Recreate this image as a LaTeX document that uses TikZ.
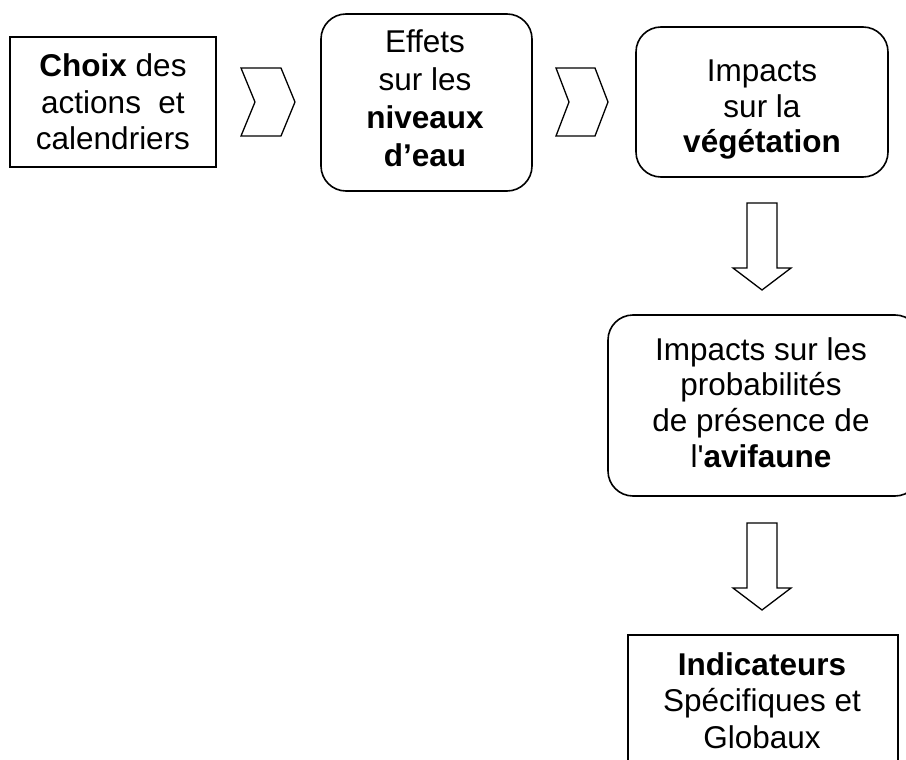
\documentclass[tikz,border=0pt]{standalone}
\usepackage{fontspec}
\setmainfont{Liberation Sans}
\begin{document}
\begin{tikzpicture}[x=1pt,y=-1pt,
  plainbox/.style={draw=black, line width=1.6pt, rectangle, inner sep=0pt, outer sep=0pt},
  roundbox/.style={plainbox, rounded corners=25pt},
  txt/.style={anchor=base, inner sep=0pt, outer sep=0pt},
  chevron/.pic={\draw[line width=1.3pt, line join=miter] (0,0) -- (40,0) -- (54,34) -- (40,68) -- (0,68) -- (14,34) -- cycle;},
  chevronb/.pic={\draw[line width=1.3pt, line join=miter] (0,0) -- (39,0) -- (52,34) -- (39,68) -- (0,68) -- (13,34) -- cycle;},
  downarr/.pic={\draw[line width=1.3pt, line join=miter] (-15,0) -- (15,0) -- (15,65) -- (29,65) -- (0,87) -- (-29,65) -- (-15,65) -- cycle;}
]
\useasboundingbox (0,0) rectangle (906,760);
\clip (0,0) rectangle (906,760);

% boxes
\node[plainbox, minimum width=206pt, minimum height=130pt] (choix) at (113,102) {};
\node[roundbox, minimum width=211pt, minimum height=177pt] (effets) at (426.5,102.5) {};
\node[roundbox, minimum width=252pt, minimum height=150pt] (veget) at (762,102) {};
\node[roundbox, minimum width=312pt, minimum height=181pt] (avif) at (764,405.5) {};
\node[plainbox, minimum width=270pt, minimum height=140pt] (indic) at (763,705) {};

% texts
\node[txt] (tchoix) at (113,77) {\parbox[t]{200pt}{\centering\fontsize{31.5}{36.5}\selectfont
  \textbf{Choix} des\\ actions\ \ et\\ calendriers}};
\node[txt] (teffets) at (425,53) {\parbox[t]{200pt}{\centering\fontsize{31.5}{38}\selectfont
  Effets\\ sur les\\ \textbf{niveaux}\\ \textbf{d’eau}}};
\node[txt] (tveget) at (762,82) {\parbox[t]{240pt}{\centering\fontsize{31.5}{35.5}\selectfont
  Impacts\\ sur la\\ \textbf{végétation}}};
\node[txt] (tavif) at (761,360) {\parbox[t]{290pt}{\centering\fontsize{31.5}{35.7}\selectfont
  Impacts sur les\\ probabilités\\ de présence de\\ l\textquotesingle\textbf{avifaune}}};
\node[txt] (tindic) at (762,675) {\parbox[t]{260pt}{\centering\fontsize{31.5}{36.5}\selectfont
  \textbf{Indicateurs}\\ Spécifiques et\\ Globaux}};

% block connectors
\pic at (241,68) {chevron};
\pic at (556,68) {chevronb};
\pic at (762,203) {downarr};
\pic at (762,523) {downarr};
\end{tikzpicture}
\end{document}
